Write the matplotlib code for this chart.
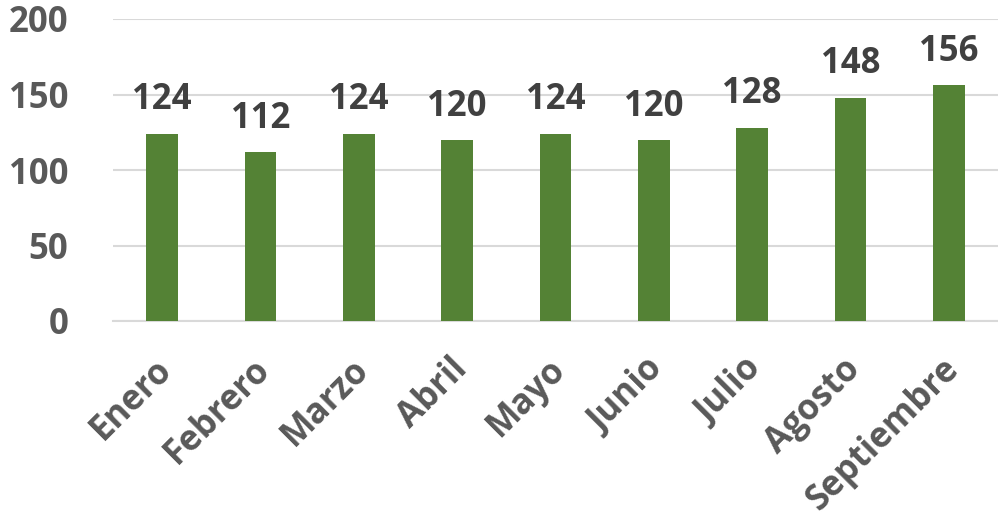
import matplotlib
matplotlib.use("Agg")
import matplotlib.pyplot as plt
import matplotlib.transforms as mtransforms

months = ["Enero", "Febrero", "Marzo", "Abril", "Mayo", "Junio", "Julio", "Agosto", "Septiembre"]
values = [124, 112, 124, 120, 124, 120, 128, 148, 156]
yticks = [0, 50, 100, 150, 200]

plt.rcParams['font.family'] = ['Open Sans', 'DejaVu Sans']

fig = plt.figure(figsize=(9.98, 5.19), dpi=100)
ax = fig.add_axes([113/998, 1 - 321/519, 885/998, (321-19)/519])

x = list(range(len(months)))
ax.bar(x, values, width=0.32, color="#548235", zorder=3)
for xi, v in zip(x, values):
    ax.annotate(str(v), (xi, v), xytext=(0, 11), textcoords="offset points",
                ha="center", va="bottom", fontsize=25, fontweight="bold", color="#404040")

ax.set_xlim(-0.5, len(months) - 0.5)
ax.set_ylim(0, 200)
ax.set_yticks(yticks)
ax.set_yticklabels([str(t) for t in yticks], fontsize=25, fontweight="bold", color="#595959")
ax.set_xticks(x)
ax.set_xticklabels(months, rotation=45, ha="right", rotation_mode="anchor",
                   fontsize=25, fontweight="bold", color="#595959")
ax.tick_params(axis="both", length=0)
ax.tick_params(axis="y", pad=32)
ax.tick_params(axis="x", pad=22)
offset = mtransforms.ScaledTranslation(-0.08, 0, fig.dpi_scale_trans)
for lbl in ax.get_xticklabels():
    lbl.set_transform(lbl.get_transform() + offset)
ax.yaxis.grid(True, color="#d9d9d9", linewidth=1.5, zorder=0)
for s in ["top", "right", "left"]:
    ax.spines[s].set_visible(False)
ax.spines["bottom"].set_color("#d9d9d9")
ax.spines["bottom"].set_linewidth(1.5)

fig.savefig("out.png", dpi=100)
